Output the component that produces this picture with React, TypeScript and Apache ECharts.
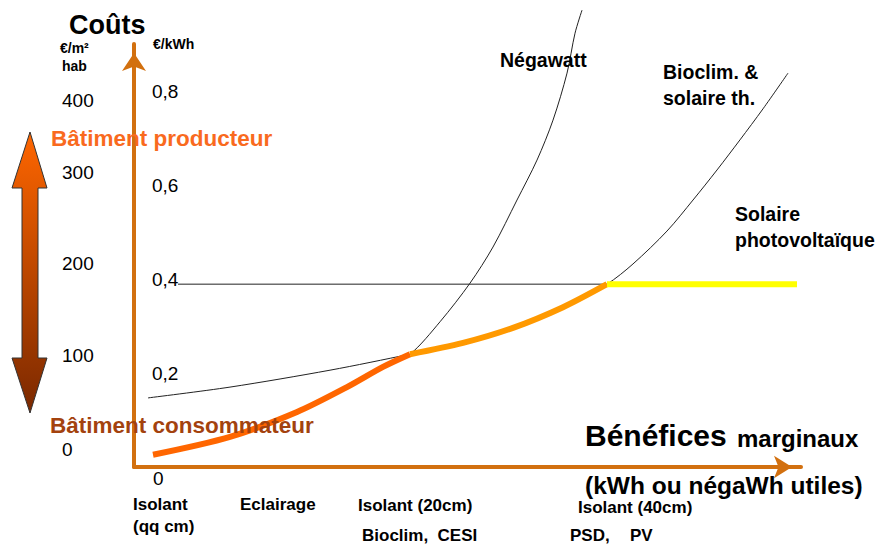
import React, { useEffect, useRef } from "react";
import * as echarts from "echarts";

// ---- data (x: marginal benefit, arbitrary 0-100 ; y: cost €/kWh) ----
const costTicks = [0, 0.2, 0.4, 0.6, 0.8];
const m2TickLabels = ["400", "300", "200", "100", "0"];

const negawattX = [2.85, 14.39, 24.44, 31.93, 37.33, 41.38, 45.88, 50.37, 53.82, 57.42, 60.42, 62.82, 64.92, 66.12, 67.17];
const negawattY = [0.026, 0.064, 0.117, 0.17, 0.213, 0.24, 0.309, 0.391, 0.468, 0.568, 0.653, 0.738, 0.838, 0.923, 0.972];

const bioclimX = [2.1, 14.39, 29.39, 41.38, 49.33, 56.82, 64.32, 70.91, 74.81, 79.91, 83.81, 87.41, 90.85, 94.3, 98.05];
const bioclimY = [0.147, 0.17, 0.206, 0.24, 0.264, 0.296, 0.34, 0.389, 0.432, 0.502, 0.568, 0.632, 0.696, 0.762, 0.838];

const pvX = [6.6, 70.91, 99.4];
const pvY = [0.389, 0.389, 0.389];

// envelope segments (cheapest option)
const envNegawattCount = 6; // points of Négawatt up to the junction
const envBioclimFrom = 3; // index of junction in bioclim
const envBioclimTo = 8; // up to PV level (exclusive)

const bottomLabels = [
  "Isolant",
  "(qq cm)",
  "Eclairage",
  "Isolant (20cm)",
  "Bioclim,  CESI",
  "Isolant (40cm)",
  "PSD,",
  "PV",
];

const FONT = '"Liberation Sans", Arial, Helvetica, sans-serif';

function pts(xs: number[], ys: number[]) {
  return xs.map((x, i) => [x, ys[i]]);
}

function txt(text: string, x: number, y: number, size: number, opts: any = {}) {
  return {
    type: "text",
    x,
    y,
    z: opts.z ?? 10,
    style: {
      text,
      fontSize: size,
      fontWeight: opts.weight ?? "bold",
      fontFamily: FONT,
      fill: opts.color ?? "#000",
      verticalAlign: "middle",
      align: opts.align ?? "left",
    },
  };
}

export default function App() {
  const ref = useRef<HTMLDivElement>(null);
  useEffect(() => {
    document.body.style.margin = "0";
    const chart = echarts.init(ref.current!, null, { renderer: "svg" });
    const axisColor = "#d2700f";
    const m2Y = [100, 172, 263, 355, 449];
    const graphic: any[] = [
      // double arrow
      {
        type: "polygon",
        z: 5,
        shape: {
          points: [
            [30, 132], [47, 188], [38, 188], [38, 358], [47, 358],
            [30, 413], [12, 358], [22, 358], [22, 188], [12, 188],
          ],
        },
        style: {
          fill: new echarts.graphic.LinearGradient(0, 0, 0, 1, [
            { offset: 0, color: "#ff6600" },
            { offset: 1, color: "#7a2800" },
          ]),
          stroke: "#333",
          lineWidth: 1,
        },
      },
      txt("Coûts", 69, 25, 27),
      txt("€/m²", 60, 48, 14),
      txt("hab", 62, 66, 14),
      txt("€/kWh", 153, 44, 14),
      ...m2TickLabels.map((t, i) => txt(t, 62, m2Y[i], 19, { weight: "normal" })),
      txt("0", 153, 478, 19, { weight: "normal" }),
      txt("Bâtiment producteur", 51, 138, 22.5, { color: "#f96a1e" }),
      txt("Bâtiment consommateur", 50, 425, 22.5, { color: "#a3420e" }),
      txt("Négawatt", 500, 60, 19.5),
      txt("Bioclim. &", 663, 72, 19.5),
      txt("solaire th.", 663, 98, 19.5),
      txt("Solaire", 735, 214, 19.5),
      txt("photovoltaïque", 735, 240, 19.5),
      txt("Bénéfices", 585, 435, 30),
      txt("marginaux", 737, 438, 24),
      txt("(kWh ou négaWh utiles)", 585, 485, 24.5),
      txt(bottomLabels[0], 133, 504, 17),
      txt(bottomLabels[1], 133, 526, 17),
      txt(bottomLabels[2], 240, 504, 17),
      txt(bottomLabels[3], 358, 505, 17),
      txt(bottomLabels[4], 362, 535, 17),
      txt(bottomLabels[5], 578, 507, 17),
      txt(bottomLabels[6], 570, 535, 17),
      txt(bottomLabels[7], 630, 535, 17),
    ];

    const thin = { color: "#222", width: 1 };
    chart.setOption({
      animation: false,
      grid: { left: 134, right: 76, top: 44, bottom: 77 },
      xAxis: {
        type: "value",
        min: 0,
        max: 100,
        axisLine: {
          show: true,
          symbol: ["none", "arrow"],
          symbolSize: [17, 18],
          symbolOffset: [0, -9],
          lineStyle: { color: axisColor, width: 4 },
        },
        axisTick: { show: false },
        axisLabel: { show: false },
        splitLine: { show: false },
      },
      yAxis: {
        type: "value",
        min: 0,
        max: 0.9,
        interval: 0.2,
        axisLine: {
          show: true,
          symbol: ["none", "arrow"],
          symbolSize: [18, 18],
          symbolOffset: [0, -9],
          lineStyle: { color: axisColor, width: 4 },
        },
        axisTick: { show: false },
        splitLine: { show: false },
        axisLabel: {
          inside: true,
          margin: 18,
          fontSize: 19,
          fontFamily: FONT,
          color: "#000",
          formatter: (v: number) =>
            costTicks.includes(Math.round(v * 10) / 10) && v !== 0 ? v.toFixed(1).replace(".", ",") : "",
        },
      },
      graphic,
      series: [
        {
          name: "Négawatt",
          type: "line",
          data: pts(negawattX, negawattY),
          smooth: 0.3,
          showSymbol: false,
          clip: false,
          lineStyle: thin,
          z: 2,
        },
        {
          name: "Bioclim. & solaire th.",
          type: "line",
          data: pts(bioclimX, bioclimY),
          smooth: 0.3,
          showSymbol: false,
          clip: false,
          lineStyle: thin,
          z: 2,
        },
        {
          name: "Solaire photovoltaïque",
          type: "line",
          data: pts(pvX.slice(0, 2), pvY.slice(0, 2)),
          showSymbol: false,
          lineStyle: thin,
          z: 2,
        },
        {
          name: "env1",
          type: "line",
          data: pts(negawattX.slice(0, envNegawattCount), negawattY.slice(0, envNegawattCount)),
          smooth: 0.3,
          showSymbol: false,
          lineStyle: { color: "#ff6600", width: 6 },
          z: 3,
        },
        {
          name: "env2",
          type: "line",
          data: pts(bioclimX.slice(envBioclimFrom, envBioclimTo), bioclimY.slice(envBioclimFrom, envBioclimTo)),
          smooth: 0.3,
          showSymbol: false,
          lineStyle: { color: "#ff9900", width: 6 },
          z: 3,
        },
        {
          name: "env3",
          type: "line",
          data: pts(pvX.slice(1), pvY.slice(1)),
          showSymbol: false,
          lineStyle: { color: "#ffff00", width: 6 },
          z: 3,
        },
      ],
    });
    return () => chart.dispose();
  }, []);
  return <div ref={ref} style={{ width: 877, height: 544 }} />;
}
